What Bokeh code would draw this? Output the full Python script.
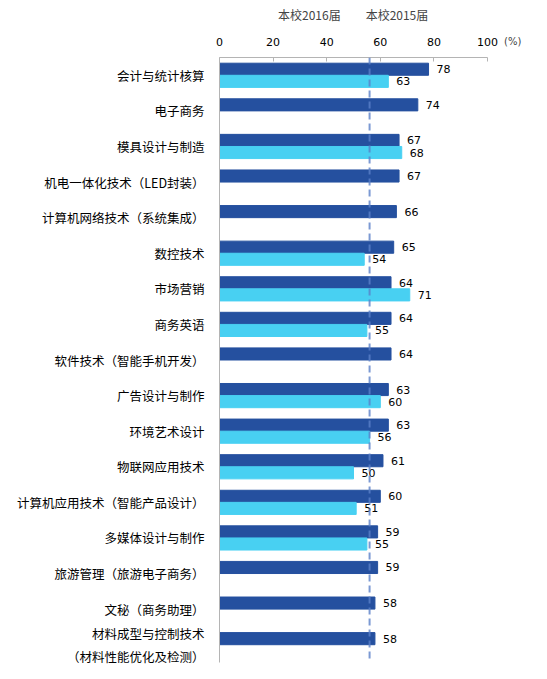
from bokeh.plotting import figure
from bokeh.layouts import column
from bokeh.models import FactorRange, ColumnDataSource, Span, Legend, LegendItem, FixedTicker
from bokeh.transform import dodge
from bokeh.embed import file_html
from bokeh.resources import INLINE
from bokeh.core.properties import value

categories = ["会计与统计核算", "电子商务", "模具设计与制造", "机电一体化技术（LED封装）",
              "计算机网络技术（系统集成）", "数控技术", "市场营销", "商务英语",
              "软件技术（智能手机开发）", "广告设计与制作", "环境艺术设计", "物联网应用技术",
              "计算机应用技术（智能产品设计）", "多媒体设计与制作", "旅游管理（旅游电子商务）",
              "文秘（商务助理）", "材料成型与控制技术\n（材料性能优化及检测）"]
v2016 = [78, 74, 67, 67, 66, 65, 64, 64, 64, 63, 63, 61, 60, 59, 59, 58, 58]
v2015 = [63, None, 68, None, None, 54, 71, 55, None, 60, 56, 50, 51, 55, None, None, None]
avg_line = 56
x_ticks = [0, 20, 40, 60, 80, 100]
series_names = ["本校2016届", "本校2015届"]
unit_label = "(%)"

C16 = "#25509F"
C15 = "#48D0F2"

src16 = ColumnDataSource(dict(cat=categories, v=v2016, t=[str(v) for v in v2016]))
c15 = [c for c, v in zip(categories, v2015) if v is not None]
v15 = [v for v in v2015 if v is not None]
src15 = ColumnDataSource(dict(cat=c15, v=v15, t=[str(v) for v in v15]))

HEAD_H = 28

# ---- header figure carrying the legend (legend sits in its right side panel) ----
head = figure(frame_width=264, frame_height=HEAD_H, x_range=(0, 1), y_range=(0, 1),
              x_axis_location=None, y_axis_location=None,
              output_backend="svg", toolbar_location=None,
              min_border=0, min_border_left=0, min_border_right=0,
              min_border_top=0, min_border_bottom=0)
head.outline_line_color = None
head.xgrid.grid_line_color = None
head.ygrid.grid_line_color = None
h16 = head.hbar(y=[], right=[], height=0.5, fill_color=C16, line_color=C16)
h15 = head.hbar(y=[], right=[], height=0.5, fill_color=C15, line_color=C15)
legend = Legend(items=[LegendItem(label=series_names[0], renderers=[h16]),
                       LegendItem(label=series_names[1], renderers=[h15])],
                orientation="horizontal", location=(-218, 5), border_line_color=None,
                background_fill_alpha=0, label_text_font="Noto Sans CJK SC",
                label_text_font_size="12px", glyph_width=8, glyph_height=8,
                spacing=12, padding=0, margin=0, label_standoff=5,
                label_height=14)
head.add_layout(legend, "right")

# ---- main chart ----
p = figure(y_range=FactorRange(factors=categories[::-1]), x_range=(0, 100),
           frame_width=268, frame_height=605, x_axis_location="above",
           output_backend="svg", toolbar_location=None,
           min_border_left=219, min_border_right=55, min_border_top=57 - HEAD_H,
           min_border_bottom=12)
p.outline_line_color = None
p.xgrid.grid_line_color = None
p.ygrid.grid_line_color = None

r16 = p.hbar(y=dodge("cat", 0.17, range=p.y_range), right="v", left=0, height=0.34,
             source=src16, fill_color=C16, line_color=C16)
r15 = p.hbar(y=dodge("cat", -0.17, range=p.y_range), right="v", left=0, height=0.34,
             source=src15, fill_color=C15, line_color=C15)

p.text(x="v", y=dodge("cat", 0.17, range=p.y_range), text="t", source=src16,
       x_offset=8, text_baseline="middle", text_font_size="11px",
       text_font=value("DejaVu Sans"), text_color="#000000")
p.text(x="v", y=dodge("cat", -0.17, range=p.y_range), text="t", source=src15,
       x_offset=8, text_baseline="middle", text_font_size="11px",
       text_font=value("DejaVu Sans"), text_color="#000000")

p.add_layout(Span(location=avg_line, dimension="height", line_color="#5A7FC8",
                  line_alpha=0.8, line_width=2, line_dash="7 4"))

xa = p.xaxis[0]
xa.ticker = FixedTicker(ticks=x_ticks)
xa.axis_line_color = "#B4B4B4"
xa.major_tick_line_color = "#B4B4B4"
xa.major_tick_in = 4
xa.major_tick_out = 0
xa.minor_tick_line_color = None
xa.major_label_text_font = "DejaVu Sans"
xa.major_label_text_font_size = "11px"
xa.major_label_text_color = "#000000"
xa.major_label_standoff = 12

ya = p.yaxis[0]
ya.axis_line_color = "#B4B4B4"
ya.major_tick_line_color = None
ya.minor_tick_line_color = None
ya.major_label_text_font = "Noto Sans CJK SC"
ya.major_label_text_font_size = "12.5px"
ya.major_label_text_color = "#000000"
ya.major_label_standoff = 9

# invisible renderer used only to carry the "(%)" unit text as a legend label
dummy = p.scatter(x=[], y=[], size=0, fill_alpha=0, line_alpha=0)
unit = Legend(items=[LegendItem(label=unit_label, renderers=[dummy])],
              location=(17, 615), border_line_color=None, background_fill_alpha=0,
              label_text_font="DejaVu Sans", label_text_font_size="10px",
              glyph_width=0, glyph_height=8, padding=0, margin=0, label_standoff=0,
              label_height=10)
p.add_layout(unit, "right")

layout = column(head, p, spacing=0)
open("out.html", "w").write(file_html(layout, INLINE))
